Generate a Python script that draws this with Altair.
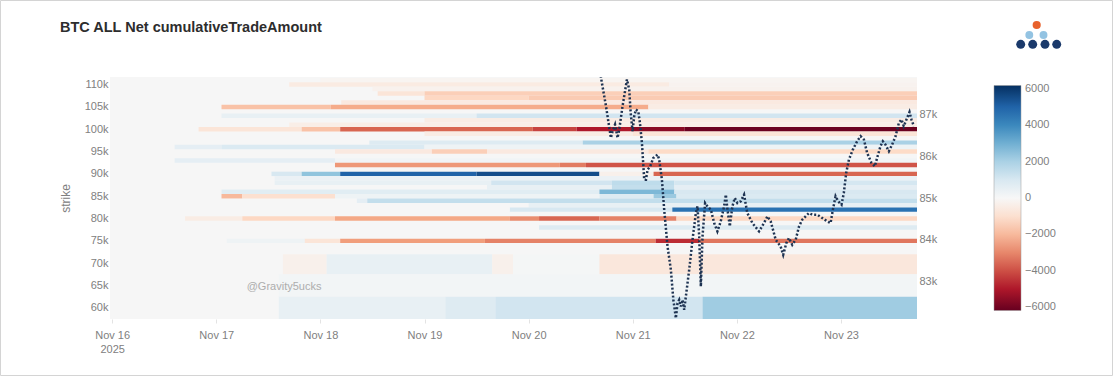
import altair as alt
import pandas as pd

TITLE = "BTC ALL Net cumulativeTradeAmount"
WATERMARK = "@Gravity5ucks"
YEAR_LABEL = "2025"

DAY_MS = 86400000
T0 = int(pd.Timestamp("2025-11-16T00:00:00Z").value // 10**6)  # ms, Nov 16 2025 00:00 UTC
X_MIN_DAY = -1 / 48
X_MAX_DAY = 7.73
tick_days = [0, 1, 2, 3, 4, 5, 6, 7]

# strike rows (in thousands); cell edges are midpoints between neighbouring strikes
strikes_k = [60, 65, 70, 74, 75, 76, 77, 78, 79, 80, 81, 82, 83, 84, 85, 86, 87, 88, 89, 90,
             91, 92, 93, 94, 95, 96, 97, 98, 99, 100, 101, 102, 103, 104, 105, 106, 107, 108,
             109, 110, 111]

# heat-map segments: strike row, start (days after Nov 16 00:00), net cumulative value
seg_strike_k = [
    111,
    110, 110,
    109,
    108, 108,
    107, 107,
    106,
    105, 105, 105,
    103, 103,
    102,
    101,
    100, 100, 100, 100, 100, 100, 100,
    99, 99,
    97, 97,
    96, 96, 96,
    95, 95, 95, 95,
    93, 93,
    92, 92, 92,
    90, 90, 90, 90, 90, 90,
    89,
    88, 88, 88, 88,
    87, 87, 87,
    86, 86, 86,
    85, 85, 85, 85, 85, 85,
    84, 84,
    83,
    82, 82,
    80, 80, 80, 80, 80, 80, 80,
    78,
    75, 75, 75, 75, 75, 75,
    70, 70, 70, 70, 70,
    65,
    60, 60, 60, 60,
]
seg_from_day = [
    2.0,
    1.7, 5.35,
    2.5,
    2.55, 3.0,
    3.0, 4.0,
    2.2,
    1.05, 2.1, 5.15,
    1.05, 3.5,
    3.0,
    1.7,
    0.83, 1.82, 2.19, 4.04, 4.46, 5.0, 5.5,
    3.0, 5.0,
    2.47, 4.52,
    0.6, 1.05, 3.0,
    2.14, 3.07, 3.6, 5.15,
    0.6, 2.14,
    2.14, 4.3, 4.55,
    1.53, 1.82, 2.19, 3.5, 4.68, 5.2,
    1.56,
    1.56, 3.64, 4.8, 5.4,
    3.6, 4.8, 5.4,
    1.05, 4.68, 5.4,
    1.05, 1.25, 2.14, 4.68, 5.2, 5.42,
    2.35, 2.45,
    4.0,
    3.82, 5.38,
    0.7, 1.25, 2.14, 3.82, 4.1, 4.68, 5.42,
    4.1,
    1.1, 1.85, 2.19, 3.58, 5.22, 5.64,
    1.64, 2.06, 3.65, 3.85, 4.68,
    1.6,
    1.6, 3.2, 3.68, 5.67,
]
seg_value = [
    -150,
    -550, -200,
    -250,
    -800, -1500,
    -1300, -1600,
    -600,
    -1800, -2300, -500,
    500, 1200,
    -500,
    -400,
    -800, -1800, -3600, -4200, -5000, -5600, -6100,
    -500, -800,
    800, 2000,
    600, 900, 300,
    -600, -1500, -600, -1200,
    600, 200,
    -2700, -3200, -3900,
    1000, 2500, 5000, 5500, -300, -3600,
    400,
    500, 1200, 1600, 1100,
    500, 1500, 600,
    700, 2800, 1000,
    -2000, -1000, 300, 800, 2300, 900,
    600, 1500,
    500,
    1000, 4600,
    -500, -1300, -2400, -2900, -3600, -3100, -1300,
    800,
    300, -800, -2600, -3100, -4600, -3300,
    -300, 500, -300, 100, -700,
    150,
    500, 800, 1200, 2200,
]

# BTC price (thousands USD), dotted line on the right axis
price_day = [4.67, 4.695, 4.743, 4.775, 4.79, 4.806, 4.83, 4.854, 4.87, 4.902,
             4.944, 4.966, 4.98, 4.998, 5.014, 5.03, 5.053, 5.069, 5.088, 5.11,
             5.127, 5.142, 5.168, 5.197, 5.238, 5.254, 5.28, 5.302, 5.334, 5.366,
             5.39, 5.414, 5.43, 5.446, 5.462, 5.478, 5.494, 5.51, 5.542, 5.574,
             5.606, 5.622, 5.638, 5.654, 5.67, 5.695, 5.718, 5.75, 5.782, 5.813,
             5.845, 5.877, 5.894, 5.91, 5.932, 5.957, 5.98, 6.005, 6.037, 6.069,
             6.1, 6.149, 6.213, 6.26, 6.293, 6.325, 6.373, 6.42, 6.445, 6.475,
             6.5, 6.532, 6.565, 6.597, 6.628, 6.66, 6.692, 6.724, 6.772, 6.82,
             6.868, 6.9, 6.922, 6.948, 6.973, 7.005, 7.027, 7.05, 7.076, 7.114,
             7.155, 7.188, 7.22, 7.251, 7.293, 7.325, 7.347, 7.379, 7.402, 7.427,
             7.46, 7.491, 7.524, 7.556, 7.581, 7.603, 7.635, 7.658, 7.677, 7.7]
price_k = [88.6, 87.88, 87.2, 86.68, 86.44, 86.6, 86.76, 86.44, 86.64, 87.2,
           87.84, 87.6, 87.04, 86.6, 86.96, 87.12, 87.08, 86.8, 86.32, 85.44,
           85.44, 85.68, 85.76, 85.96, 86.04, 85.92, 85.44, 84.72, 83.84, 83.28,
           82.56, 82.12, 82.48, 82.56, 82.4, 82.56, 82.32, 82.64, 83.28, 84.0,
           84.64, 84.8, 84.08, 82.88, 84.08, 84.88, 84.8, 84.72, 84.4, 84.2,
           84.44, 84.8, 85.08, 84.72, 84.32, 84.8, 85.0, 84.88, 84.92, 85.08,
           84.64, 84.4, 84.2, 84.4, 84.56, 84.44, 84.0, 83.84, 83.64, 83.92,
           84.04, 83.88, 84.0, 84.32, 84.48, 84.56, 84.64, 84.6, 84.6, 84.52,
           84.44, 84.4, 84.72, 85.04, 84.92, 84.84, 85.12, 85.6, 85.92, 86.16,
           86.36, 86.48, 86.4, 86.08, 85.84, 85.76, 85.96, 86.24, 86.36, 86.28,
           86.12, 86.28, 86.48, 86.8, 86.88, 86.72, 86.92, 87.06, 86.88, 86.72]

strike_ticks_k = [60, 65, 70, 75, 80, 85, 90, 95, 100, 105, 110]
price_ticks_k = [83, 84, 85, 86, 87]
legend_ticks = [6000, 4000, 2000, 0, -2000, -4000, -6000]
COLOR_MAX = 6170
# ColorBrewer RdBu, red for negative, blue for positive (as in the colour bar)
RDBU = ["#67001f", "#b2182b", "#d6604d", "#f4a582", "#fddbc7", "#f7f7f7",
        "#d1e5f0", "#92c5de", "#4393c3", "#2166ac", "#053061"]
color_domain = [-COLOR_MAX + i * (2 * COLOR_MAX) / (len(RDBU) - 1) for i in range(len(RDBU))]

# ---------- build tables ----------
def to_ms(day):
    return T0 + day * DAY_MS

lower, upper = {}, {}
for i, s in enumerate(strikes_k):
    lower[s] = (s + strikes_k[i - 1]) / 2 if i > 0 else s - 2.5
    upper[s] = (s + strikes_k[i + 1]) / 2 if i < len(strikes_k) - 1 else s + 0.5

rows = []
n = len(seg_strike_k)
for i in range(n):
    s = seg_strike_k[i]
    end = X_MAX_DAY
    if i + 1 < n and seg_strike_k[i + 1] == s:
        end = seg_from_day[i + 1]
    rows.append({"t0": to_ms(seg_from_day[i]), "t1": to_ms(end),
                 "y0": lower[s], "y1": upper[s], "value": seg_value[i]})
heat_df = pd.DataFrame(rows)

price_df = pd.DataFrame({"t": [to_ms(d) for d in price_day], "price": price_k})

FONT = "Liberation Sans"
GRAY = "#808080"
x_scale = alt.Scale(type="utc", domain=[to_ms(X_MIN_DAY), to_ms(X_MAX_DAY)], nice=False)

x_label_expr = ("utcdate(datum.value) == 16 ? [utcFormat(datum.value, '%b %d'), '" + YEAR_LABEL +
                "'] : utcFormat(datum.value, '%b %d')")

heat = alt.Chart(heat_df).mark_rect(strokeWidth=0).encode(
    x=alt.X("t0:T", scale=x_scale, title=None,
            axis=alt.Axis(values=[to_ms(d) for d in tick_days], labelExpr=x_label_expr,
                          grid=False, domain=False,
                          ticks=True, tickSize=4, tickColor="#e3e3e3", labelPadding=6,
                          labelLineHeight=14, labelAlign="center")),
    x2="t1:T",
    y=alt.Y("y0:Q", scale=alt.Scale(domain=[57.5, 111.7], nice=False, zero=False),
            title="strike",
            axis=alt.Axis(values=strike_ticks_k, labelExpr="datum.value + 'k'", ticks=False,
                          grid=False, domain=False,
                          labelPadding=2, titlePadding=12, titleFontSize=12,
                          titleFontWeight="normal", titleColor=GRAY)),
    y2="y1:Q",
    color=alt.Color("value:Q",
                    scale=alt.Scale(type="linear", domain=color_domain, range=RDBU,
                                    interpolate="rgb", clamp=True),
                    legend=alt.Legend(orient="none", legendX=884, legendY=8.5, direction="vertical",
                                      title=None, gradientLength=225, gradientThickness=27,
                                      values=legend_ticks, format="d", labelFontSize=11,
                                      labelColor=GRAY, labelFont=FONT, labelOffset=4, padding=0,
                                      gradientStrokeColor="#9a9a9a", gradientStrokeWidth=0.5)),
)

line = alt.Chart(price_df).mark_line(strokeDash=[2, 2], strokeWidth=2.5, color="#1e3352",
                                     clip=True).encode(
    x=alt.X("t:T", scale=x_scale, title=None),
    y=alt.Y("price:Q", scale=alt.Scale(domain=[82.1, 87.9], nice=False, zero=False), title=None,
            axis=alt.Axis(orient="right", values=price_ticks_k, labelExpr="datum.value + 'k'",
                          grid=False, domain=False, ticks=False, labelPadding=2)),
)

one = alt.Data(values=[{"k": 1}])

title_mark = alt.Chart(one).mark_text(align="left", baseline="alphabetic", fontSize=14.5,
                                      fontWeight="bold", font=FONT, color="#2d2d2d").encode(
    x=alt.value(-50), y=alt.value(-44.7), text=alt.value(TITLE))

watermark = alt.Chart(one).mark_text(align="left", baseline="alphabetic", fontSize=11,
                                     font=FONT, color="#adadad").encode(
    x=alt.value(136.7), y=alt.value(213.4), text=alt.value(WATERMARK))

logo_orange = alt.Chart(one).mark_circle(size=66, opacity=1, color="#e8622c").encode(
    x=alt.value(926.7), y=alt.value(-52))
logo_lb1 = alt.Chart(one).mark_circle(size=62, opacity=1, color="#93c3e2").encode(
    x=alt.value(919.3), y=alt.value(-42))
logo_lb2 = alt.Chart(one).mark_circle(size=62, opacity=1, color="#93c3e2").encode(
    x=alt.value(933.5), y=alt.value(-42))
logo_n1 = alt.Chart(one).mark_circle(size=80, opacity=1, color="#1b3a6b").encode(
    x=alt.value(910.7), y=alt.value(-32.7))
logo_n2 = alt.Chart(one).mark_circle(size=80, opacity=1, color="#1b3a6b").encode(
    x=alt.value(922.7), y=alt.value(-32.7))
logo_n3 = alt.Chart(one).mark_circle(size=80, opacity=1, color="#1b3a6b").encode(
    x=alt.value(935), y=alt.value(-32.7))
logo_n4 = alt.Chart(one).mark_circle(size=80, opacity=1, color="#1b3a6b").encode(
    x=alt.value(946.7), y=alt.value(-32.7))

frame = alt.Chart(one).mark_rect(fillOpacity=0, stroke="#d4d4d4", strokeWidth=1).encode(
    x=alt.value(-109.5), x2=alt.value(1002.5), y=alt.value(-76.5), y2=alt.value(298.5))

chart = alt.layer(
    heat, line, title_mark, watermark, logo_orange, logo_lb1, logo_lb2,
    logo_n1, logo_n2, logo_n3, logo_n4, frame
).resolve_scale(y="independent").properties(
    width=807, height=242,
    padding={"left": 110, "top": 77, "right": 197, "bottom": 57},
    autosize=alt.AutoSizeParams(type="none"),
    background="white",
).configure_view(stroke=None, fill="#f6f6f6").configure_axis(
    grid=False, domain=False, labelFont=FONT, labelFontSize=11, labelColor=GRAY, titleFont=FONT
)

chart.save("out.html", embed_options={"renderer": "svg", "actions": False})
